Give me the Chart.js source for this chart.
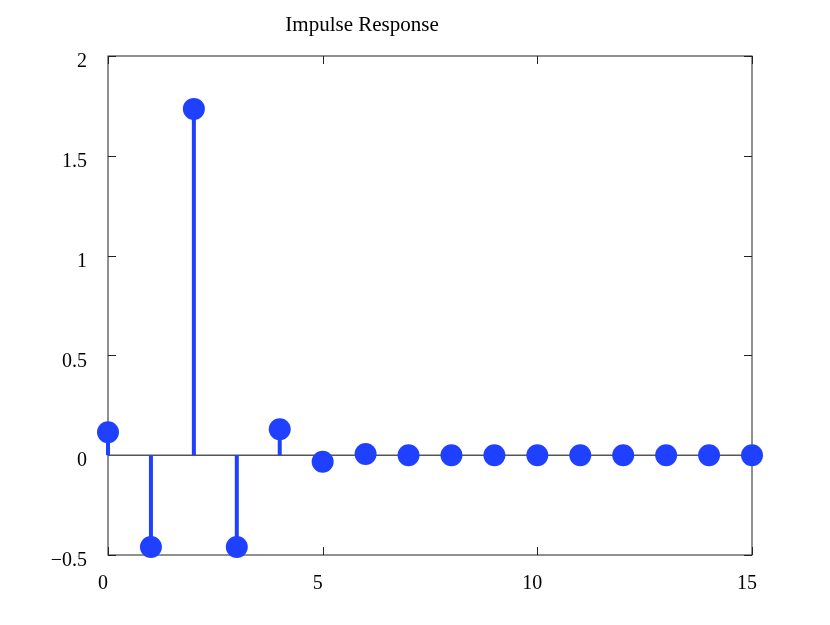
<!DOCTYPE html>
<html>
<head>
<meta charset="utf-8">
<script src="https://cdn.jsdelivr.net/npm/chart.js@4"></script>
<style>
    body { margin: 0; background: #fff; }
</style>
</head>
<body>
<canvas id="impulseChart" width="830" height="625"></canvas>
<script>
const TITLE = "Impulse Response";
const sampleIndex = [0, 1, 2, 3, 4, 5, 6, 7, 8, 9, 10, 11, 12, 13, 14, 15];
const responseValues = [0.115, -0.46, 1.735, -0.46, 0.13, -0.033, 0.006, 0, 0, 0, 0, 0, 0, 0, 0, 0];
const xTicks = [0, 5, 10, 15];
const yTicks = [-0.5, 0, 0.5, 1, 1.5, 2];

const STEM_COLOR = "#2040ff";
const SERIF = "'Liberation Serif', 'DejaVu Serif', serif";
const FONT = { family: SERIF, size: 20 };

// stems, zero line, box with inward ticks, title
const stemPlugin = {
    id: "stems",
    beforeDatasetsDraw(chart) {
        const { ctx, chartArea, scales: { x, y } } = chart;
        const y0 = y.getPixelForValue(0);

        ctx.save();
        ctx.strokeStyle = "#555";
        ctx.lineWidth = 1.5;
        ctx.beginPath();
        ctx.moveTo(chartArea.left, y0);
        ctx.lineTo(chartArea.right, y0);
        ctx.stroke();

        ctx.strokeStyle = STEM_COLOR;
        ctx.lineWidth = 4;
        sampleIndex.forEach((n, i) => {
            const px = x.getPixelForValue(n);
            ctx.beginPath();
            ctx.moveTo(px, y0);
            ctx.lineTo(px, y.getPixelForValue(responseValues[i]));
            ctx.stroke();
        });
        ctx.restore();
    },
    beforeDraw(chart) {
        const { ctx, chartArea: a, scales: { x, y } } = chart;
        const len = 8;
        ctx.save();
        ctx.strokeStyle = "#222";
        ctx.lineWidth = 1;
        ctx.strokeRect(a.left, a.top, a.right - a.left, a.bottom - a.top);

        ctx.beginPath();
        xTicks.forEach(v => {
            const px = Math.round(x.getPixelForValue(v)) + 0.5;
            ctx.moveTo(px, a.bottom); ctx.lineTo(px, a.bottom - len);
            ctx.moveTo(px, a.top); ctx.lineTo(px, a.top + len);
        });
        yTicks.forEach(v => {
            const py = Math.round(y.getPixelForValue(v)) + 0.5;
            ctx.moveTo(a.left, py); ctx.lineTo(a.left + len, py);
            ctx.moveTo(a.right, py); ctx.lineTo(a.right - len, py);
        });
        ctx.stroke();

        ctx.fillStyle = "#000";
        ctx.font = `21px ${SERIF}`;
        ctx.textAlign = "center";
        ctx.textBaseline = "middle";
        ctx.fillText(TITLE, 362, 25);
        ctx.restore();
    }
};

const points = sampleIndex.map((n, i) => ({ x: n, y: responseValues[i] }));

new Chart(document.getElementById("impulseChart"), {
    type: "scatter",
    data: {
        datasets: [{
            data: points,
            clip: false,
            pointRadius: 11,
            pointHoverRadius: 11,
            pointBackgroundColor: STEM_COLOR,
            pointBorderWidth: 0,
            showLine: false
        }]
    },
    options: {
        responsive: false,
        animation: false,
        layout: { padding: { top: 56, right: 78, left: 0, bottom: 0 } },
        plugins: {
            legend: { display: false },
            tooltip: { enabled: false },
            title: { display: false }
        },
        scales: {
            x: {
                type: "linear",
                min: 0,
                max: 15,
                afterFit: scale => { scale.height = 70; },
                afterBuildTicks: scale => { scale.ticks = xTicks.map(v => ({ value: v })); },
                grid: { display: false, drawTicks: false },
                border: { display: false },
                ticks: { color: "#000", font: FONT, padding: 17, labelOffset: -5, maxRotation: 0 }
            },
            y: {
                type: "linear",
                min: -0.5,
                max: 2,
                afterFit: scale => { scale.width = 108; },
                afterBuildTicks: scale => { scale.ticks = yTicks.map(v => ({ value: v })); },
                grid: { display: false, drawTicks: false },
                border: { display: false },
                ticks: {
                    color: "#000",
                    font: FONT,
                    padding: 21,
                    labelOffset: 6,
                    callback: v => String(v).replace("-", "\u2212")
                }
            }
        }
    },
    plugins: [stemPlugin]
});
</script>
</body>
</html>
